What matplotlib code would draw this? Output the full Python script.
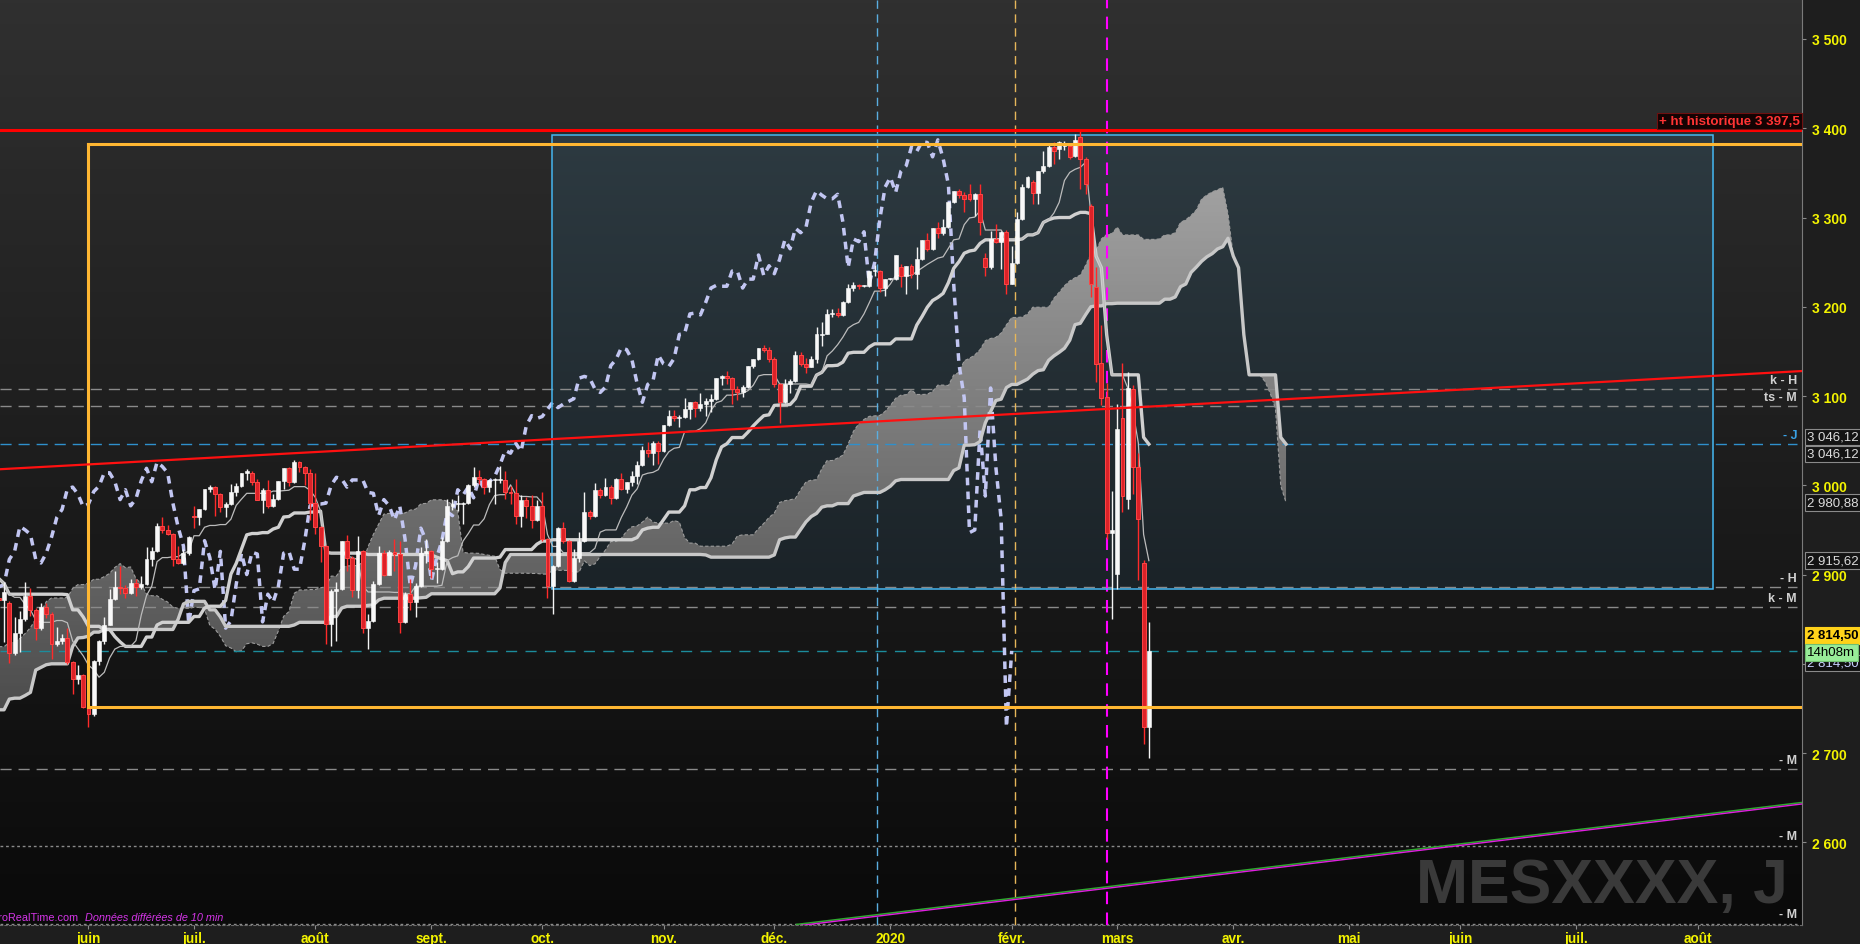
import numpy as np
import pandas as pd
import matplotlib
matplotlib.use('Agg')
import matplotlib.pyplot as plt
from matplotlib.patches import Rectangle
from matplotlib.colors import LinearSegmentedColormap

plt.rcParams['font.family'] = ['Liberation Sans', 'DejaVu Sans']

# ---------------- values (daily bars, points) ----------------
day_first = '2019-01-22'     # first bar used for the Ichimoku warm-up
candle_start = '2019-05-09'  # first drawn candle
day_zero = '2019-06-03'

# highs / lows 22 Jan - 8 May 2019 (off screen, only feed tenkan/kijun/senkou)
pre_high = [2653, 2653, 2647, 2672, 2659, 2653, 2690, 2708, 2716,
            2725, 2739, 2738, 2724, 2709,
            2718, 2745, 2761, 2757, 2777,
            2780, 2785, 2791, 2787, 2795,
            2814, 2800, 2795, 2791, 2813,
            2816, 2795, 2787, 2767, 2747,
            2785, 2798, 2818, 2815, 2830,
            2836, 2852, 2843, 2860, 2861,
            2809, 2830, 2826, 2820, 2838,
            2870, 2872, 2885, 2882, 2894,
            2896, 2892, 2890, 2893, 2910,
            2909, 2916, 2918, 2908, 2908,
            2910, 2936, 2937, 2933, 2940,
            2949, 2948, 2955, 2931, 2948,
            2932, 2920, 2897]
pre_low = [2612, 2612, 2627, 2657, 2627, 2633, 2640, 2676, 2697,
           2705, 2724, 2727, 2688, 2682,
           2703, 2721, 2748, 2732, 2757,
           2770, 2767, 2775, 2764, 2778,
           2792, 2786, 2775, 2780, 2790,
           2768, 2782, 2763, 2739, 2722,
           2745, 2779, 2795, 2804, 2812,
           2821, 2823, 2812, 2817, 2800,
           2785, 2801, 2785, 2799, 2822,
           2848, 2859, 2866, 2868, 2882,
           2880, 2874, 2876, 2881, 2896,
           2896, 2900, 2896, 2896, 2900,
           2896, 2908, 2926, 2912, 2917,
           2939, 2922, 2923, 2900, 2928,
           2891, 2862, 2874]

# candles 9 May 2019 - 10 Mar 2020, one line per week
opens = [2874, 2871,
         2868, 2812, 2834, 2850, 2876,
         2860, 2840, 2864, 2856, 2822,
         2826, 2829, 2802, 2783, 2788,
         2752, 2744, 2803, 2826, 2843,
         2873, 2886, 2885, 2879, 2891,
         2886, 2889, 2917, 2926, 2954,
         2950, 2945, 2917, 2913, 2924,
         2965, 2964, 2973, 2996, 2998,
         2990, 2976, 2979, 2993, 2999,
         3014, 3014, 3004, 2984, 2995,
         2977, 2985, 3005, 3019, 3004,
         3026, 3021, 3014, 2980, 2953,
         2932, 2845, 2882, 2884, 2938,
         2919, 2883, 2926, 2840, 2848,
         2889, 2924, 2900, 2925, 2923,
         2847, 2878, 2869, 2887, 2924,
         2926, 2906, 2906, 2938, 2977,
         2979, 2979, 2980, 3000, 3009,
         3007, 2998, 3006, 3006, 3006,
         2992, 2991, 2966, 2984, 2977,
         2961, 2977, 2940, 2887, 2910,
         2952, 2938, 2893, 2919, 2938,
         2970, 2966, 2995, 2989, 2998,
         2986, 3007, 2996, 3004, 3010,
         3023, 3039, 3036, 3047, 3038,
         3067, 3078, 3075, 3077, 3085,
         3093, 3087, 3091, 3094, 3097,
         3120, 3122, 3120, 3108, 3104,
         3110, 3134, 3141, 3154, 3152,
         3141, 3114, 3093, 3113, 3117,
         3146, 3136, 3133, 3142, 3168,
         3170, 3192, 3193, 3191, 3205,
         3221, 3224, 3223, 3223, 3240,
         3240, 3221, 3231, 3231, 3245,
         3235, 3246, 3237, 3253, 3275,
         3265, 3288, 3283, 3289, 3317,
         3330, 3325, 3326, 3321, 3326,
         3255, 3244, 3276, 3273, 3284,
         3226, 3249, 3298, 3334, 3340,
         3328, 3352, 3358, 3379, 3377,
         3380, 3380, 3369, 3390, 3366,
         3313, 3222, 3137, 3099, 2947,
         2901, 3075, 2985, 3108, 3020,
         2913, 2729]
highs = [2885, 2892,
         2870, 2852, 2859, 2892, 2885,
         2862, 2868, 2868, 2858, 2841,
         2833, 2840, 2803, 2799, 2789,
         2763, 2804, 2827, 2852, 2884,
         2904, 2910, 2888, 2895, 2895,
         2898, 2931, 2931, 2958, 2964,
         2955, 2947, 2932, 2929, 2943,
         2977, 2973, 2996, 3000, 2999,
         2991, 2981, 3002, 3003, 3014,
         3018, 3016, 3007, 2997, 3006,
         2990, 3005, 3019, 3020, 3028,
         3027, 3022, 3018, 3014, 2954,
         2933, 2884, 2892, 2938, 2944,
         2921, 2943, 2927, 2856, 2893,
         2932, 2928, 2928, 2940, 2938,
         2880, 2895, 2891, 2931, 2940,
         2928, 2914, 2942, 2985, 2985,
         2989, 2981, 3001, 3020, 3017,
         3008, 3006, 3008, 3022, 3016,
         2999, 3007, 2989, 2987, 2989,
         2983, 2993, 2941, 2911, 2953,
         2959, 2939, 2929, 2948, 2993,
         2972, 3003, 2997, 3008, 3000,
         3008, 3014, 3004, 3016, 3027,
         3044, 3048, 3050, 3050, 3067,
         3084, 3084, 3079, 3098, 3093,
         3094, 3103, 3098, 3102, 3120,
         3124, 3128, 3121, 3111, 3112,
         3134, 3142, 3154, 3157, 3155,
         3144, 3115, 3119, 3119, 3150,
         3149, 3143, 3145, 3177, 3183,
         3198, 3198, 3199, 3206, 3226,
         3228, 3226, 3224, 3240, 3247,
         3241, 3231, 3232, 3258, 3248,
         3246, 3248, 3267, 3275, 3283,
         3288, 3295, 3298, 3317, 3330,
         3332, 3329, 3337, 3327, 3338,
         3260, 3285, 3293, 3285, 3286,
         3268, 3306, 3337, 3347, 3342,
         3352, 3375, 3381, 3385, 3386,
         3386, 3382, 3393, 3397.5, 3368,
         3315, 3245, 3180, 3115, 2994,
         3091, 3136.5, 3127, 3112, 3036,
         2916, 2847]
lows = [2836, 2825,
        2801, 2810, 2813, 2848, 2854,
        2827, 2838, 2851, 2805, 2820,
        2822, 2800, 2766, 2777, 2750,
        2729, 2742, 2799, 2822, 2843,
        2871, 2878, 2874, 2878, 2876,
        2884, 2888, 2910, 2925, 2946,
        2944, 2910, 2912, 2912, 2922,
        2952, 2955, 2972, 2993, 2966,
        2970, 2964, 2978, 2988, 2998,
        3006, 3000, 2983, 2969, 2975,
        2976, 2984, 2996, 2999, 3003,
        3015, 3000, 2961, 2945, 2914,
        2822, 2820, 2826, 2883, 2904,
        2875, 2874, 2834, 2817, 2847,
        2888, 2898, 2899, 2904, 2834,
        2846, 2860, 2853, 2886, 2913,
        2896, 2891, 2905, 2937, 2972,
        2971, 2957, 2979, 2998, 3002,
        2990, 2993, 2979, 3003, 2985,
        2979, 2957, 2953, 2963, 2952,
        2960, 2938, 2874, 2856, 2909,
        2935, 2892, 2892, 2914, 2937,
        2962, 2965, 2986, 2988, 2979,
        2985, 2995, 2991, 2999, 3001,
        3022, 3032, 3023, 3024, 3037,
        3066, 3072, 3065, 3075, 3074,
        3076, 3083, 3078, 3082, 3096,
        3112, 3113, 3091, 3095, 3099,
        3109, 3131, 3140, 3149, 3138,
        3110, 3070, 3092, 3103, 3116,
        3134, 3126, 3132, 3137, 3156,
        3169, 3188, 3188, 3190, 3204,
        3218, 3220, 3222, 3222, 3234,
        3216, 3212, 3230, 3230, 3222,
        3214, 3232, 3220, 3252, 3262,
        3264, 3277, 3280, 3288, 3316,
        3322, 3306, 3319, 3302, 3280,
        3234, 3242, 3271, 3242, 3214,
        3225, 3248, 3297, 3333, 3315,
        3315, 3350, 3357, 3360, 3366,
        3376, 3366, 3368, 3332, 3326,
        3211, 3116, 3090, 2940, 2850,
        2884, 2970, 2974, 2990, 2894,
        2710, 2694.75]
closes = [2871, 2881,
          2812, 2834, 2850, 2876, 2860,
          2840, 2864, 2856, 2822, 2826,
          2829, 2802, 2783, 2788, 2752,
          2744, 2803, 2826, 2843, 2873,
          2886, 2885, 2879, 2891, 2886,
          2889, 2917, 2926, 2954, 2950,
          2945, 2917, 2913, 2924, 2942,
          2964, 2973, 2996, 2998, 2990,
          2976, 2979, 2993, 2999, 3014,
          3014, 3004, 2984, 2995, 2977,
          2985, 3005, 3019, 3004, 3026,
          3021, 3014, 2980, 2953, 2932,
          2845, 2882, 2884, 2938, 2919,
          2883, 2926, 2840, 2848, 2889,
          2924, 2900, 2925, 2923, 2847,
          2878, 2869, 2887, 2924, 2926,
          2906, 2906, 2938, 2977, 2979,
          2979, 2980, 3000, 3009, 3007,
          2998, 3006, 3006, 3006, 2992,
          2991, 2966, 2984, 2977, 2961,
          2977, 2940, 2887, 2910, 2952,
          2938, 2893, 2919, 2938, 2970,
          2966, 2995, 2989, 2998, 2986,
          3007, 2996, 3004, 3010, 3023,
          3039, 3036, 3047, 3038, 3067,
          3078, 3075, 3077, 3085, 3093,
          3087, 3091, 3094, 3097, 3120,
          3122, 3120, 3108, 3104, 3110,
          3134, 3141, 3154, 3152, 3141,
          3114, 3093, 3113, 3117, 3146,
          3136, 3133, 3142, 3169, 3170,
          3192, 3193, 3191, 3205, 3221,
          3224, 3223, 3223, 3240, 3240,
          3221, 3231, 3231, 3258, 3235,
          3246, 3237, 3253, 3275, 3265,
          3288, 3283, 3289, 3317, 3330,
          3325, 3321, 3321, 3326, 3295,
          3244, 3276, 3273, 3284, 3226,
          3249, 3298, 3334, 3345, 3328,
          3352, 3358, 3379, 3374, 3385,
          3384, 3368, 3387, 3366, 3337,
          3226, 3136, 3098, 2947, 2950,
          3063, 2988, 3109, 3020, 2962,
          2729, 2814.5]

month_dates = ['2019-06-01', '2019-07-01', '2019-08-01', '2019-09-01', '2019-10-01',
               '2019-11-01', '2019-12-01', '2020-01-01', '2020-02-01', '2020-03-01',
               '2020-04-01', '2020-05-01', '2020-06-01', '2020-07-01', '2020-08-01']
month_labels = ['juin', 'juil.', 'août', 'sept.', 'oct.', 'nov.', 'déc.', '2020',
                'févr.', 'mars', 'avr.', 'mai', 'juin', 'juil.', 'août']
price_ticks = [2600, 2700, 2800, 2900, 3000, 3100, 3200, 3300, 3400, 3500]

ath = 3397.5
range_top, range_bottom = 3382.4, 2751.6
box_top, box_bottom = 3392.4, 2883.8
level_prices = [3107.9, 3088.8, 2886.0, 2863.6, 2682.0]
level_labels = ['k - H', 'ts - M', '- H', 'k - M', '- M']
dotted_prices = [2596.0, 2508.2]
last_price = 2814.5
countdown = '14h08m'

# ---------------- helpers ----------------
days = pd.bdate_range(day_first, periods=420)
t0 = days.get_loc(pd.Timestamp(day_zero))


def tpos(d):
    return int(days.searchsorted(pd.Timestamp(d))) - t0


def fr(v):
    return f'{v:,.2f}'.replace(',', ' ').replace('.', ',')


def vgrad(c_lo, c_hi):
    return LinearSegmentedColormap.from_list('g', [c_lo, c_hi])


assert len(opens) == len(highs) == len(lows) == len(closes) == 219
t_pre = np.arange(tpos(day_first), tpos(candle_start))
t_c = np.arange(tpos(candle_start), tpos(candle_start) + len(closes))
t_all = np.concatenate([t_pre, t_c])

hi = pd.Series(pre_high + highs, dtype=float)
lo = pd.Series(pre_low + lows, dtype=float)


def mid(n):
    return ((hi.rolling(n).max() + lo.rolling(n).min()) / 2).to_numpy()


tenkan, kijun, ssb = mid(9), mid(26), mid(52)
ssa = (tenkan + kijun) / 2

XMIN, XMAX = -16.77, 324.8
YMIN, YMAX = 2507.4, 3544.8
grad = np.linspace(0, 1, 256).reshape(-1, 1)

fig = plt.figure(figsize=(18.6, 9.45), dpi=100, facecolor='#1e1e1e')
ax = fig.add_axes([0, 19 / 945, 1802 / 1860, 926 / 945])
ax.set_facecolor('#151515')

# background
ax.imshow(grad, extent=[0, 1, 0, 1], transform=ax.transAxes, origin='lower',
          aspect='auto', cmap=vgrad('#0a0a0a', '#303030'), zorder=0)

# blue box
bx0, bx1 = 87.9, 308.0
ax.imshow(grad, extent=[bx0, bx1, box_bottom, box_top], origin='lower', aspect='auto',
          cmap=vgrad('#1b2328', '#2d3a41'), zorder=1)
ax.add_patch(Rectangle((bx0, box_bottom), bx1 - bx0, box_top - box_bottom, fill=False,
                       ec='#45b6f0', lw=1.1, zorder=5))

# kumo
ok = ~np.isnan(ssb)
xs = t_all[ok] + 26
sa, sb = ssa[ok], ssb[ok]
poly = ax.fill_between(xs, sa, sb, facecolor='none', edgecolor='none', zorder=2)
im = ax.imshow(grad, extent=[xs[0], xs[-1], YMIN, YMAX], origin='lower', aspect='auto',
               cmap=vgrad('#2a2a2a', '#bfbfbf'), zorder=2)
im.set_clip_path(poly.get_paths()[0], transform=ax.transData)
ax.plot(xs, sa, color='#9c9c9c', lw=0.8, ls=(0, (3, 2)), zorder=3)
ax.plot(xs, sb, color='#c8c8c8', lw=2.4, zorder=5.5)

# horizontal levels
x_lab = 1797 / 1802
t_end = XMIN + x_lab * (XMAX - XMIN)
for p, lab in zip(level_prices, level_labels):
    ax.plot([XMIN, t_end], [p, p], color='#8a8a8a', lw=1.0, ls=(0, (8, 5)), zorder=3)
    ax.annotate(lab, xy=(x_lab, p), xycoords=('axes fraction', 'data'), xytext=(0, 2),
                textcoords='offset points', ha='right', va='bottom', fontsize=9,
                fontweight='bold', color='#d0d0d0', zorder=9)
for p in dotted_prices:
    ax.plot([XMIN, t_end], [p, p], color='#8a8a8a', lw=1.0, ls=(0, (2, 2)), zorder=3)
    ax.annotate('- M', xy=(x_lab, p), xycoords=('axes fraction', 'data'), xytext=(0, 3),
                textcoords='offset points', ha='right', va='bottom', fontsize=9,
                fontweight='bold', color='#d0d0d0', zorder=9)
ax.plot([XMIN, t_end], [kijun[-1], kijun[-1]], color='#2f90cc', lw=1.0, ls=(0, (8, 5)), zorder=3)
ax.annotate('- J', xy=(x_lab, kijun[-1]), xycoords=('axes fraction', 'data'), xytext=(0, 2),
            textcoords='offset points', ha='right', va='bottom', fontsize=9,
            fontweight='bold', color='#3aa2e6', zorder=9)
ax.plot([XMIN, t_end], [last_price, last_price], color='#1c8c9c', lw=1.0,
        ls=(0, (8, 6)), zorder=3)

# vertical markers
for xv, col, lw in [(149.5, '#5aaee0', 1.0), (175.7, '#e6b65a', 1.0), (193.0, '#ff00ff', 1.5)]:
    ax.axvline(xv, color=col, lw=lw, ls=(0, (6, 4)), zorder=3)

# chikou
vis = (t_c - 26) >= XMIN - 1
ax.plot(t_c[vis] - 26, np.array(closes)[vis], color='#c2c6f2', lw=2.5,
        ls=(0, (2.2, 1.8)), zorder=4)

# tenkan / kijun
vk = t_all >= t_c[0]
ax.plot(t_all[vk], kijun[vk], color='#d0d0d0', lw=2.4, zorder=5.6)
ax.plot(t_all[vk], tenkan[vk], color='#bcbcbc', lw=0.9, zorder=5.7)

# candles
o, h, l, c = map(np.array, (opens, highs, lows, closes))
up = c >= o
blo = np.minimum(o, c)
bh = np.maximum(np.abs(c - o), 1.5)
ax.vlines(t_c[up], l[up], h[up], color='#f4f4f4', lw=1.0, zorder=6)
ax.vlines(t_c[~up], l[~up], h[~up], color='#ff2a2a', lw=1.0, zorder=6)
ax.bar(t_c[up], bh[up], bottom=blo[up], width=0.74, color='#f8f8f8',
       edgecolor='#ffffff', lw=0.4, zorder=7)
ax.bar(t_c[~up], bh[~up], bottom=blo[~up], width=0.74, color='#dc2228',
       edgecolor='#ff4545', lw=0.7, zorder=7)

# orange range
ax.plot([0, XMAX], [range_top, range_top], color='#ffb732', lw=2.2, zorder=8)
ax.plot([0, XMAX], [range_bottom, range_bottom], color='#ffb732', lw=2.2, zorder=8)
ax.plot([0, 0], [range_bottom, range_top], color='#ffb732', lw=2.2, zorder=8)

# red lines
ax.axhline(ath, color='#ff0000', lw=2.2, zorder=8)
ax.plot([XMIN, XMAX], [3018, 3128], color='#ff1010', lw=1.6, zorder=8)
ax.plot([134.2, XMAX], [2508.0, 2644.7], color='#2fa82f', lw=1.1, zorder=8)
ax.plot([134.2, XMAX], [2506.3, 2643.0], color='#e020e0', lw=1.0, zorder=8)

ax.annotate(f'+ ht historique {fr(ath)[:-1]}', xy=(1801 / 1802, ath),
            xycoords=('axes fraction', 'data'), xytext=(-1, 2.5), textcoords='offset points',
            ha='right', va='bottom', fontsize=9.6, fontweight='bold', color='#ff3434',
            bbox=dict(boxstyle='square,pad=0.15', fc='#140303', ec='#6e1010', lw=0.8),
            zorder=10)

# watermark and credits
ax.text(1788 / 1802, 23 / 926, 'MESXXXX, J', transform=ax.transAxes, ha='right',
        va='baseline', fontsize=45, fontweight='bold', color='#3a3a3a', zorder=1.5)
ax.text(78 / 1802, 5 / 926, 'ProRealTime.com', transform=ax.transAxes, ha='right',
        va='baseline', fontsize=7.8, color='#d535e8', zorder=9)
ax.text(85 / 1802, 5 / 926, 'Données différées de 10 min', transform=ax.transAxes,
        ha='left', va='baseline', fontsize=7.8, style='italic', color='#d535e8', zorder=9)

# right-hand value boxes
def price_box(y, text, fc, ec, tc, weight='normal'):
    ax.annotate(text, xy=(1.0, y), xycoords=('axes fraction', 'data'), xytext=(3.8, 0),
                textcoords='offset points', ha='left', va='center', fontsize=9.5,
                color=tc, fontweight=weight, annotation_clip=False, zorder=12,
                bbox=dict(boxstyle='square,pad=0.18', fc=fc, ec=ec, lw=0.8))


price_box(kijun[-1] + 8, fr(kijun[-1]), '#141414', '#8a8a8a', '#dcdcdc')
price_box(ssb[-1] - 11, fr(ssb[-1]), '#141414', '#8a8a8a', '#dcdcdc')
price_box(ssa[-1], fr(ssa[-1]), '#141414', '#8a8a8a', '#dcdcdc')
price_box(tenkan[-1], fr(tenkan[-1]), '#141414', '#8a8a8a', '#dcdcdc')
price_box(2801, fr(last_price), '#101010', '#8a8a8a', '#c8d0ff')
price_box(2832, fr(last_price), '#ffd21a', '#ffd21a', '#000000', 'bold')
price_box(2812.7, countdown, '#98ec98', '#6fbf6f', '#000000')

# axes styling
ax.set_xlim(XMIN, XMAX)
ax.set_ylim(YMIN, YMAX)
ax.yaxis.tick_right()
ax.set_yticks(price_ticks)
ax.set_yticklabels([f'{p:,}'.replace(',', ' ') for p in price_ticks])
ax.set_xticks([tpos(d) for d in month_dates])
ax.set_xticklabels(month_labels)
ax.tick_params(axis='y', which='both', length=3, width=0.8, color='#8a8a8a',
               labelcolor='#f4f400', labelsize=10, pad=4)
ax.tick_params(axis='x', which='both', length=3, width=0.8, color='#8a8a8a',
               labelcolor='#f4f400', labelsize=9.8, pad=1.5)
for lab in ax.get_yticklabels() + ax.get_xticklabels():
    lab.set_fontweight('bold')
for side in ('top', 'left'):
    ax.spines[side].set_visible(False)
ax.spines['right'].set_color('#7a7a7a')
ax.spines['bottom'].set_color('#6a6a6a')
ax.spines['bottom'].set_linestyle((0, (2, 2)))

fig.savefig('out.png', dpi=100, facecolor=fig.get_facecolor())
